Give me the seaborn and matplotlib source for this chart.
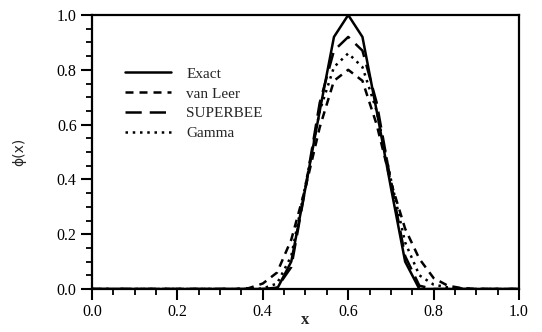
import numpy as np
import pandas as pd
import matplotlib
matplotlib.use("Agg")
import matplotlib.pyplot as plt
from matplotlib.ticker import MultipleLocator, FormatStrFormatter
import seaborn as sns

# Grid points (spacing 1/30) and profiles for each scheme
x = [i / 30 for i in range(0, 31)]
exact = [0.0] * 13 + [0.0, 0.10, 0.37, 0.65, 0.92, 1.00, 0.92, 0.65, 0.37, 0.10, 0.0] + [0.0] * 7
van_leer = [0.0] * 11 + [0.003, 0.02, 0.06, 0.18, 0.37, 0.59, 0.76, 0.80, 0.76, 0.60, 0.39, 0.22, 0.11, 0.04, 0.012, 0.003, 0.0] + [0.0] * 3
superbee = [0.0] * 13 + [0.005, 0.08, 0.37, 0.68, 0.87, 0.92, 0.87, 0.68, 0.39, 0.12, 0.012, 0.0] + [0.0] * 6
gamma = [0.0] * 12 + [0.002, 0.02, 0.12, 0.38, 0.65, 0.81, 0.86, 0.81, 0.65, 0.40, 0.17, 0.05, 0.016, 0.006, 0.002, 0.0] + [0.0] * 3

schemes = ["Exact", "van Leer", "SUPERBEE", "Gamma"]
profiles = [exact, van_leer, superbee, gamma]

df = pd.concat(
    [pd.DataFrame({"x": x, "phi": p, "scheme": s}) for s, p in zip(schemes, profiles)],
    ignore_index=True,
)

sns.set_theme(style="ticks")
plt.rcParams["font.family"] = ["Liberation Serif", "DejaVu Serif"]

fig = plt.figure(figsize=(5.42, 3.32), dpi=100)
ax = fig.add_axes([0.1697, 0.1295, 0.7879, 0.8253])

dash_styles = {
    "Exact": "",
    "van Leer": (3.2, 2.4),
    "SUPERBEE": (6.5, 3.2),
    "Gamma": (1.0, 1.9),
}
sns.lineplot(
    data=df, x="x", y="phi", hue="scheme", style="scheme",
    hue_order=schemes, style_order=schemes,
    palette=["black"] * 4, dashes=dash_styles,
    linewidth=1.8, ax=ax, legend=True,
)

ax.set_xlim(0, 1)
ax.set_ylim(0, 1)
ax.xaxis.set_major_locator(MultipleLocator(0.2))
ax.xaxis.set_minor_locator(MultipleLocator(0.05))
ax.yaxis.set_major_locator(MultipleLocator(0.2))
ax.yaxis.set_minor_locator(MultipleLocator(0.05))
ax.xaxis.set_major_formatter(FormatStrFormatter("%.1f"))
ax.yaxis.set_major_formatter(FormatStrFormatter("%.1f"))

for side in ["left", "bottom", "right", "top"]:
    ax.spines[side].set_linewidth(1.6)
    ax.spines[side].set_color("black")

ax.tick_params(axis="both", which="major", direction="out", length=8, width=1.5,
               labelsize=11.5, colors="black", pad=3)
ax.tick_params(axis="both", which="minor", direction="out", length=4.5, width=1.3,
               colors="black")
ax.tick_params(top=False, right=False, which="both")

ax.set_xlabel("x", fontsize=12, fontweight="bold", labelpad=-6)
ax.set_ylabel("ϕ(x)", fontsize=10, family=["DejaVu Sans"], labelpad=22)

leg = ax.legend(
    loc="upper left", bbox_to_anchor=(0.045, 0.86), frameon=False,
    fontsize=11, handlelength=3.0, handletextpad=1.0, labelspacing=0.4,
)
for line in leg.get_lines():
    line.set_linewidth(1.8)

fig.savefig("out.png", dpi=100)
